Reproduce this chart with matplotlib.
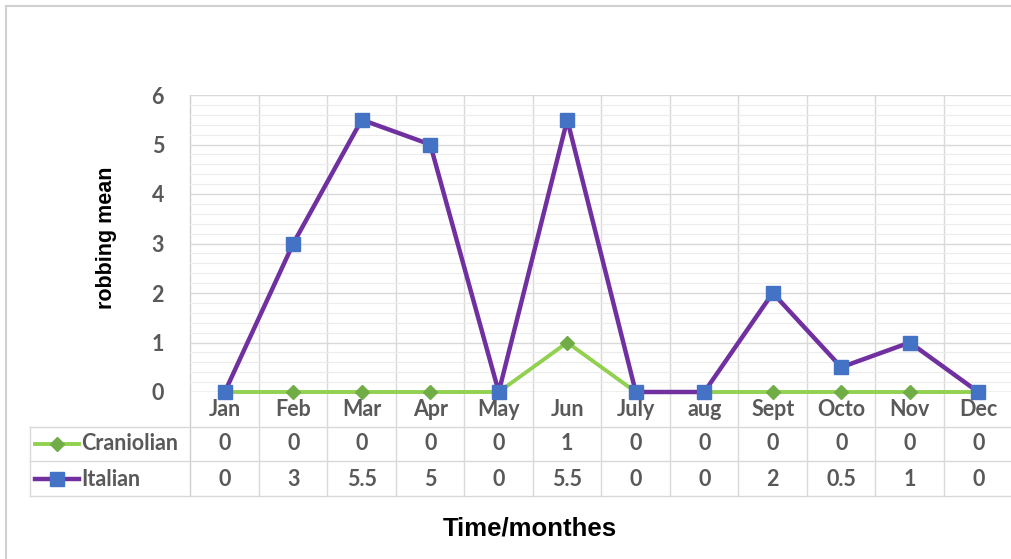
import matplotlib
matplotlib.use("Agg")
import matplotlib.pyplot as plt
import numpy as np
from matplotlib.ticker import MultipleLocator

months = ["Jan", "Feb", "Mar", "Apr", "May", "Jun", "July", "aug", "Sept", "Octo", "Nov", "Dec"]
craniolian = [0, 0, 0, 0, 0, 1, 0, 0, 0, 0, 0, 0]
italian = [0, 3, 5.5, 5, 0, 5.5, 0, 0, 2, 0.5, 1, 0]
series_names = ["Craniolian", "Italian"]

W, H = 1012, 559
fig = plt.figure(figsize=(W / 100, H / 100), dpi=100)
fig.patch.set_facecolor("white")

# figure frame (left & top light gray)
fig.add_artist(plt.Line2D([6 / W, 6 / W], [0, 1 - 6 / H], color="#d0d0d0", lw=1.5, transform=fig.transFigure))
fig.add_artist(plt.Line2D([6 / W, 1], [1 - 6 / H, 1 - 6 / H], color="#d0d0d0", lw=1.5, transform=fig.transFigure))

left, right, top, bottom = 190.5, 1012.5, 95, 392
ax = fig.add_axes([left / W, 1 - bottom / H, (right - left) / W, (bottom - top) / H])
ax.set_xlim(-0.5, 11.5)
ax.set_ylim(0, 6)
for s in ax.spines.values():
    s.set_visible(False)

ax.yaxis.set_major_locator(MultipleLocator(1))
ax.yaxis.set_minor_locator(MultipleLocator(0.2))
ax.grid(axis="y", which="major", color="#d9d9d9", lw=1.0, zorder=0)
ax.grid(axis="y", which="minor", color="#ececec", lw=0.8, zorder=0)
ax.tick_params(axis="y", which="both", length=0, pad=19)
ax.set_yticks(np.arange(0, 7, 1))
ax.set_yticklabels([str(v) for v in range(7)], fontsize=15.5, color="#595959",
                   fontfamily="Lato", fontweight="bold")
ax.set_xticks([])

tfont = dict(fontsize=15.5, color="#595959", fontfamily="Lato", fontweight="bold")
gridc = "#d9d9d9"

# table rows in axes-fraction y (pixel based)
ph = bottom - top
def yf(py):
    return (bottom - py) / ph

y_lab, y_r1, y_r2 = yf(409.5), yf(444), yf(479)
y_line1, y_line2, y_line3 = yf(427), yf(461), yf(496)
x_tab_left = -0.5 - (left - 30) / ((right - left) / 12)

trans = ax.get_xaxis_transform()
# vertical grid/table lines at category boundaries
for k in range(13):
    xb = -0.5 + k
    ax.plot([xb, xb], [1, y_line3], color=gridc if k else "#cfcfcf", lw=1.0,
            transform=trans, clip_on=False, zorder=0)
# horizontal table lines
for yl in (y_line1, y_line2, y_line3):
    ax.plot([x_tab_left, 11.5], [yl, yl], color=gridc, lw=1.0, transform=trans, clip_on=False, zorder=0)
ax.plot([x_tab_left, x_tab_left], [y_line1, y_line3], color=gridc, lw=1.0, transform=trans, clip_on=False)
ax.axhline(0, color="#d0d0d0", lw=1.0, zorder=1)

def fmt(v):
    return str(int(v)) if float(v).is_integer() else str(v)

for i, m in enumerate(months):
    ax.text(i, y_lab, m, ha="center", va="center", transform=trans, **tfont)
    ax.text(i, y_r1, fmt(craniolian[i]), ha="center", va="center", transform=trans, **tfont)
    ax.text(i, y_r2, fmt(italian[i]), ha="center", va="center", transform=trans, **tfont)

x = np.arange(len(months))
green_line, green_mk = "#92D050", "#70AD47"
purple, blue = "#7030A0", "#4472C4"
ax.plot(x, craniolian, color=green_line, lw=2.8, marker="D", ms=7, mfc=green_mk, mec=green_mk,
        zorder=3, clip_on=False)
ax.plot(x, italian, color=purple, lw=3.2, marker="s", ms=10, mfc=blue, mec=blue,
        zorder=4, clip_on=False)

# legend keys in the table row header
cw = (right - left) / 12
def px2x(px):
    return -0.5 + (px - left) / cw
for yrow, col, mc, mk, msz, lw, name in [
        (y_r1, green_line, green_mk, "D", 7, 2.8, series_names[0]),
        (y_r2, purple, blue, "s", 10, 3.2, series_names[1])]:
    ax.plot([px2x(35), px2x(79)], [yrow, yrow], color=col, lw=lw, transform=trans, clip_on=False)
    ax.plot([px2x(57)], [yrow], marker=mk, ms=msz, color=mc, transform=trans, clip_on=False)
    ax.text(px2x(81), yrow, name, ha="left", va="center", transform=trans, **tfont)

fig.text(107 / W, 1 - 238 / H, "robbing mean", rotation=90, ha="center", va="center",
         fontsize=15.5, fontweight="bold", fontfamily="Liberation Sans", color="black")
fig.text(530 / W, 1 - 528 / H, "Time/monthes", ha="center", va="center",
         fontsize=18.5, fontweight="bold", fontfamily="Liberation Sans", color="black")

fig.savefig("out.png", dpi=100, facecolor="white")
